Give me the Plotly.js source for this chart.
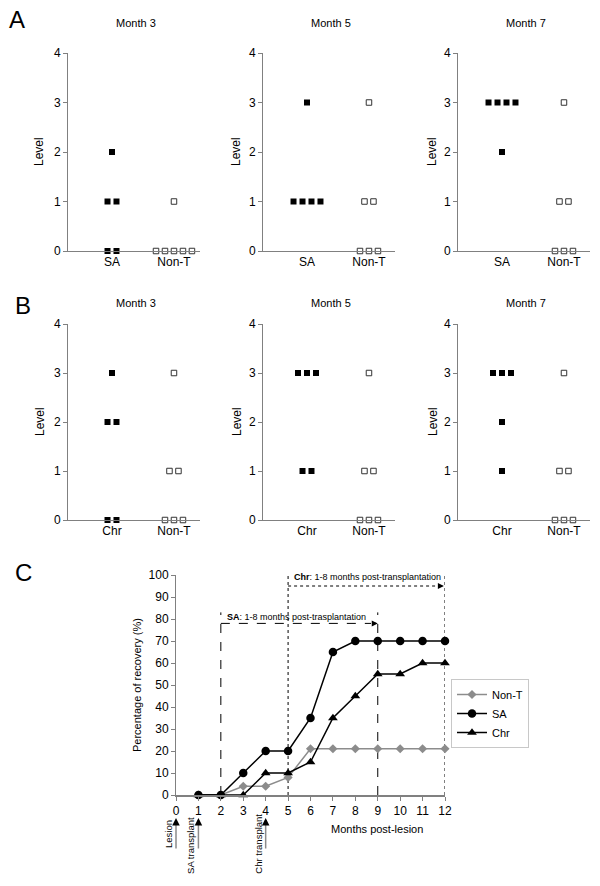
<!DOCTYPE html>
<html><head><meta charset="utf-8">
<script src="https://cdn.plot.ly/plotly-3.0.1.min.js"></script>
<style>html,body{margin:0;padding:0;background:#fff}#chart{width:600px;height:886px}</style>
</head><body><div id="chart"></div>
<script>
// ---------- data ----------
const groupLabelsA = ['SA', 'Non-T'];
const groupLabelsB = ['Chr', 'Non-T'];
const monthTitles = ['Month 3', 'Month 5', 'Month 7'];
const levelTicks = [0, 1, 2, 3, 4];

// Panel A: individual levels
const A_SA_m3 = [2, 1, 1, 0, 0];
const A_NT_m3 = [1, 0, 0, 0, 0, 0];
const A_SA_m5 = [3, 1, 1, 1, 1];
const A_NT_m5 = [3, 1, 1, 0, 0, 0];
const A_SA_m7 = [3, 3, 3, 3, 2];
const A_NT_m7 = [3, 1, 1, 0, 0, 0];
// Panel B: individual levels
const B_Chr_m3 = [3, 2, 2, 0, 0];
const B_NT_m3 = [3, 1, 1, 0, 0, 0];
const B_Chr_m5 = [3, 3, 3, 1, 1];
const B_NT_m5 = [3, 1, 1, 0, 0, 0];
const B_Chr_m7 = [3, 3, 3, 2, 1];
const B_NT_m7 = [3, 1, 1, 0, 0, 0];

// Panel C: % recovery per month post-lesion
const monthTicks = [0, 1, 2, 3, 4, 5, 6, 7, 8, 9, 10, 11, 12];
const monthsC = [1, 2, 3, 4, 5, 6, 7, 8, 9, 10, 11, 12];
const recNonT = [0, 0, 4, 4, 8, 21, 21, 21, 21, 21, 21, 21];
const recSA   = [0, 0, 10, 20, 20, 35, 65, 70, 70, 70, 70, 70];
const recChr  = [0, 0, 0, 10, 10, 15, 35, 45, 55, 55, 60, 60];
const saWindow = [2, 9];
const chrWindow = [5, 12];
const events = [
  {month: 0, label: 'Lesion'},
  {month: 1, label: 'SA transplant'},
  {month: 4, label: 'Chr transplant'}
];

// ---------- helpers ----------
const W = 600, H = 886;
const px = p => p / W;
const py = p => 1 - p / H;
const FONT = 'Liberation Sans, Arial, sans-serif';
const GREY = '#808080';

function jitter(vals, center, spacing) {
  const counts = {}, idx = {};
  vals.forEach(v => counts[v] = (counts[v] || 0) + 1);
  return vals.map(v => {
    idx[v] = (idx[v] || 0);
    const i = idx[v]++;
    return center + (i - (counts[v] - 1) / 2) * spacing;
  });
}

const panels = [
  {treat: A_SA_m3, nt: A_NT_m3, labels: groupLabelsA, title: monthTitles[0]},
  {treat: A_SA_m5, nt: A_NT_m5, labels: groupLabelsA, title: monthTitles[1]},
  {treat: A_SA_m7, nt: A_NT_m7, labels: groupLabelsA, title: monthTitles[2]},
  {treat: B_Chr_m3, nt: B_NT_m3, labels: groupLabelsB, title: monthTitles[0]},
  {treat: B_Chr_m5, nt: B_NT_m5, labels: groupLabelsB, title: monthTitles[1]},
  {treat: B_Chr_m7, nt: B_NT_m7, labels: groupLabelsB, title: monthTitles[2]}
];
const colPx = [[68, 200], [263, 395], [458, 590]];
const rowPx = [[53, 251], [324, 520]];
const titleY = [23, 303];
const levelX = [39, 236, 432];

const data = [];
const layout = {
  width: W, height: H,
  margin: {l: 0, r: 0, t: 0, b: 0},
  paper_bgcolor: '#fff', plot_bgcolor: 'rgba(0,0,0,0)',
  font: {family: FONT, size: 12, color: '#000'},
  showlegend: true,
  annotations: [], shapes: []
};
const SP = 0.145;

panels.forEach((p, i) => {
  const n = i + 1;
  const col = i % 3, row = Math.floor(i / 3);
  const xa = 'x' + n, ya = 'y' + n;
  data.push({
    type: 'scatter', mode: 'markers', xaxis: xa, yaxis: ya, showlegend: false,
    x: jitter(p.treat, 0, SP), y: p.treat, cliponaxis: false, hoverinfo: 'skip',
    marker: {symbol: 'square', size: 6, color: '#000'}
  });
  data.push({
    type: 'scatter', mode: 'markers', xaxis: xa, yaxis: ya, showlegend: false,
    x: jitter(p.nt, 1, SP), y: p.nt, cliponaxis: false, hoverinfo: 'skip',
    marker: {symbol: 'square', size: 5.5, color: '#fff', line: {color: '#333', width: 1}}
  });
  layout['xaxis' + n] = {
    domain: [px(colPx[col][0]), px(colPx[col][1])], anchor: ya,
    range: [-0.71, 1.42], tickvals: [0, 1], ticktext: p.labels,
    showline: true, linecolor: GREY, linewidth: 1, ticks: '', showgrid: false, zeroline: false,
    tickfont: {size: 12}, fixedrange: true
  };
  layout['yaxis' + n] = {
    domain: [py(rowPx[row][1]), py(rowPx[row][0])], anchor: xa,
    range: [0, 4], tickvals: levelTicks, showline: true, linecolor: GREY, linewidth: 1,
    ticks: 'outside', ticklen: 4, tickcolor: GREY, showgrid: false, zeroline: false,
    tickfont: {size: 12}, fixedrange: true
  };
  layout.annotations.push({
    xref: 'paper', yref: 'paper', x: px((colPx[col][0] + colPx[col][1]) / 2 + 2), y: py(titleY[row]),
    text: p.title, showarrow: false, font: {size: 11}, xanchor: 'center', yanchor: 'middle'
  });
  layout.annotations.push({
    xref: 'paper', yref: 'paper', x: px(levelX[col] + (row ? 1 : 0)), y: py((rowPx[row][0] + rowPx[row][1]) / 2),
    text: 'Level', showarrow: false, textangle: -90, font: {size: 12}, xanchor: 'center', yanchor: 'middle'
  });
});

// Panel C
data.push({
  type: 'scatter', mode: 'lines+markers', name: 'Non-T', x: monthsC, y: recNonT,
  xaxis: 'x7', yaxis: 'y7', cliponaxis: false,
  line: {color: '#8c8c8c', width: 1.5}, marker: {symbol: 'diamond', size: 7, color: '#8c8c8c'}
});
data.push({
  type: 'scatter', mode: 'lines+markers', name: 'SA', x: monthsC, y: recSA,
  xaxis: 'x7', yaxis: 'y7', cliponaxis: false,
  line: {color: '#000', width: 1.5}, marker: {symbol: 'circle', size: 8.5, color: '#000'}
});
data.push({
  type: 'scatter', mode: 'lines+markers', name: 'Chr', x: monthsC, y: recChr,
  xaxis: 'x7', yaxis: 'y7', cliponaxis: false,
  line: {color: '#000', width: 1.5}, marker: {symbol: 'triangle-up', size: 8.5, color: '#000'}
});
layout.xaxis7 = {
  domain: [px(176), px(445)], anchor: 'y7', range: [0, 12], tickvals: monthTicks,
  showline: true, linecolor: GREY, linewidth: 1.5, ticks: 'outside', ticklen: 4, tickcolor: GREY,
  showgrid: false, zeroline: false, tickfont: {size: 12}, fixedrange: true
};
layout.yaxis7 = {
  domain: [py(795), py(575)], anchor: 'x7', range: [0, 100], dtick: 10,
  showline: true, linecolor: GREY, linewidth: 1, ticks: 'outside', ticklen: 4, tickcolor: GREY,
  showgrid: false, zeroline: false, tickfont: {size: 12}, fixedrange: true
};
layout.legend = {
  x: px(451), y: py(679), xanchor: 'left', yanchor: 'top',
  bgcolor: '#fff', bordercolor: '#c8c8c8', borderwidth: 1,
  font: {size: 11}, tracegroupgap: 0, itemwidth: 30
};

// dashed windows
const line = (x0, y0, x1, y1, dash) => ({
  type: 'line', xref: 'x7', yref: 'y7', x0, y0, x1, y1, layer: 'below',
  line: {color: '#000', width: 1, dash}
});
layout.shapes.push(line(saWindow[0], 0, saWindow[0], 83, 'dash'));
layout.shapes.push(line(saWindow[1], 0, saWindow[1], 83, 'dash'));
layout.shapes.push(line(saWindow[0], 78, saWindow[1] - 0.3, 78, 'dash'));
layout.shapes.push(line(chrWindow[0], 0, chrWindow[0], 100, 'dot'));
layout.shapes.push(line(chrWindow[1], 0, chrWindow[1], 100, 'dot'));
layout.shapes.push(line(chrWindow[0], 95, chrWindow[1] - 0.3, 95, 'dot'));
[[saWindow[1], 78], [chrWindow[1] - 0.05, 95]].forEach(([x, y]) => {
  layout.annotations.push({
    xref: 'x7', yref: 'y7', x, y, ax: -7, ay: 0, text: '', showarrow: true,
    arrowhead: 2, arrowsize: 1, arrowwidth: 1.2, arrowcolor: '#000'
  });
});
layout.annotations.push({
  xref: 'x7', yref: 'y7', x: saWindow[0] + 0.17, y: 81, xanchor: 'left', yanchor: 'middle',
  text: '<b>SA</b>: 1-8 months post-trasplantation', showarrow: false, font: {size: 9}
});
layout.annotations.push({
  xref: 'x7', yref: 'y7', x: chrWindow[0] + 0.17, y: 99, xanchor: 'left', yanchor: 'middle',
  text: '<b>Chr</b>: 1-8 months post-transplantation', showarrow: false, font: {size: 9}
});

// axis titles C
layout.annotations.push({
  xref: 'paper', yref: 'paper', x: px(377), y: py(829), text: 'Months post-lesion',
  showarrow: false, font: {size: 11}, xanchor: 'center', yanchor: 'middle'
});
layout.annotations.push({
  xref: 'paper', yref: 'paper', x: px(137), y: py(685), text: 'Percentage of recovery (%)',
  showarrow: false, font: {size: 11}, textangle: -90, xanchor: 'center', yanchor: 'middle'
});

// event arrows
events.forEach((e, k) => {
  layout.annotations.push({
    xref: 'x7', yref: 'paper', x: e.month, y: py(824), ax: 0, ay: 26, text: '', showarrow: true,
    arrowhead: 0, arrowwidth: 1.5, arrowcolor: '#8c8c8c'
  });
  layout.annotations.push({
    xref: 'x7', yref: 'paper', x: e.month, y: py(818), ax: 0, ay: 8, text: '', showarrow: true,
    arrowhead: 2, arrowsize: 1, arrowwidth: 1.5, arrowcolor: '#000'
  });
  layout.annotations.push({
    xref: 'x7', yref: 'paper', x: e.month, xshift: -8, y: py(k === 0 ? 850 : 876),
    text: e.label, showarrow: false, textangle: -90, font: {size: 9.5},
    xanchor: 'center', yanchor: 'bottom'
  });
});

// panel letters
[['A', 17, 20], ['B', 23, 305], ['C', 23, 572]].forEach(([t, x, y]) => {
  layout.annotations.push({
    xref: 'paper', yref: 'paper', x: px(x), y: py(y), text: t, showarrow: false,
    font: {size: 24}, xanchor: 'center', yanchor: 'middle'
  });
});

Plotly.newPlot('chart', data, layout, {staticPlot: true});
</script></body></html>
